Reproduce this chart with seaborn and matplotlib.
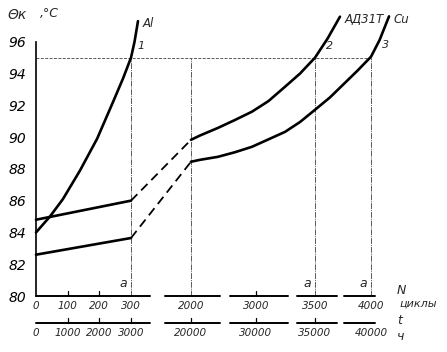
import numpy as np
import pandas as pd
import matplotlib
matplotlib.use("Agg")
import matplotlib.pyplot as plt
import seaborn as sns

# ---------------- data ----------------
# N (cycles) and temperature readings
al_N = [0, 44, 85, 139, 193, 243, 275, 300, 400, 498]
al_T = [84.0, 85.0, 86.1, 87.9, 89.9, 92.2, 93.7, 95.0, 96.0, 97.3]

ad_lin_N = [0, 300]
ad_lin_T = [84.8, 86.0]
ad_dash_N = [300, 2000]
ad_dash_T = [86.0, 89.83]
ad_N = [2000, 2138, 2415, 2677, 2938, 3106, 3246, 3373, 3500, 3612, 3723]
ad_T = [89.83, 90.1, 90.58, 91.08, 91.6, 92.27, 93.17, 94.0, 95.0, 96.2, 97.58]

cu_lin_N = [0, 300]
cu_lin_T = [82.6, 83.65]
cu_dash_N = [300, 2000]
cu_dash_T = [83.65, 88.45]
cu_N = [2000, 2138, 2415, 2677, 2938, 3246, 3373, 3500, 3634, 3768, 3879, 4000, 4076, 4161]
cu_T = [88.45, 88.57, 88.76, 89.05, 89.39, 90.33, 90.95, 91.72, 92.5, 93.42, 94.18, 95.06, 96.1, 97.6]

y_ticks = [80, 82, 84, 86, 88, 90, 92, 94, 96]
n_ticks = [0, 100, 200, 300, 2000, 3000, 3500, 4000]
n_labels = ["0", "100", "200", "300", "2000", "3000", "3500", "4000"]
t_labels = ["0", "1000", "2000", "3000", "20000", "30000", "35000", "40000"]
limit_T = 95
limit_N = [300, 3500, 4000]          # points 1, 2, 3
limit_T_pts = [95.0, 95.0, 95.06]
point_names = ["1", "2", "3"]
curve_names = ["Al", "АД31Т", "Cu"]
grid_N = [300, 2000, 3500, 4000]
axis_segments = [(0, 838), (1263, 2446), (2600, 3271), (3347, 3696), (3759, 4036)]
small_ticks_row1 = [100, 200, 3000]
small_ticks_row2 = [100, 200, 300, 2000, 3000, 3500]

# ---------------- broken (piecewise) x scale ----------------
nodes_N = np.array([0, 300, 2000, 3000, 3500, 4000, 5000], float)
nodes_P = np.array([0, 95, 155, 220, 279, 335, 447], float)

def fwd(x):
    return np.interp(np.asarray(x, float), nodes_N, nodes_P)

def inv(p):
    return np.interp(np.asarray(p, float), nodes_P, nodes_N)

sns.set_style("white")
plt.rcParams['font.family'] = ['DejaVu Sans']

W, H = 447, 352
fig = plt.figure(figsize=(W / 100, H / 100), dpi=100)
ax_left, ax_right, ax_top, ax_bot = 36, 404.6, 10, 296
ax = fig.add_axes([ax_left / W, 1 - ax_bot / H, (ax_right - ax_left) / W, (ax_bot - ax_top) / H])
ax.set_xscale('function', functions=(fwd, inv))
ax.set_xlim(0, 4300)
ax.set_ylim(80, 98)

lw = 1.9
def draw(N, T, ls='-', w=lw):
    df = pd.DataFrame({"N": N, "T": T})
    sns.lineplot(data=df, x="N", y="T", ax=ax, color="black", lw=w, ls=ls,
                 sort=False, estimator=None, clip_on=False)

draw(al_N, al_T)
draw(ad_lin_N, ad_lin_T)
draw(ad_N, ad_T)
draw(cu_lin_N, cu_lin_T)
draw(cu_N, cu_T)
draw(ad_dash_N, ad_dash_T, ls=(0, (5, 3)), w=1.3)
draw(cu_dash_N, cu_dash_T, ls=(0, (5, 3)), w=1.3)

# guide lines
gcol = "0.35"
ax.plot([0, 4000], [limit_T, limit_T], color=gcol, lw=0.7, ls=(0, (3, 1.5)), zorder=1)
for n in grid_N:
    ax.plot([n, n], [80, limit_T], color=gcol, lw=0.7, ls=(0, (6, 1, 1, 1)), zorder=1)

# spines and y ticks
for s in ["top", "right", "bottom"]:
    ax.spines[s].set_visible(False)
ax.spines["left"].set_color("black")
ax.spines["left"].set_linewidth(1.2)
ax.spines["left"].set_bounds(80, 96)
ax.set_yticks(y_ticks)
ax.set_yticklabels([str(v) for v in y_ticks], fontsize=10, style="italic")
ax.tick_params(axis="y", direction="in", length=5, width=1, pad=7, colors="black")
ax.set_xticks([])
ax.set_xlabel("")
ax.set_ylabel("")
ax.grid(False)

# broken x axes (two rows)
tr = ax.get_xaxis_transform()
px_per_y = (ax_bot - ax_top)
row2 = -(323 - 296) / px_per_y
tick_len = 5 / px_per_y
for a, b in axis_segments:
    ax.plot([a, b], [0, 0], color="black", lw=1.4, transform=tr, clip_on=False)
    ax.plot([a, b], [row2, row2], color="black", lw=1.4, transform=tr, clip_on=False)
for n in small_ticks_row1:
    ax.plot([n, n], [0, tick_len], color="black", lw=0.9, transform=tr, clip_on=False)
for n in small_ticks_row2:
    ax.plot([n, n], [row2, row2 + tick_len], color="black", lw=0.9, transform=tr, clip_on=False)

lab1_y = -(306 - 296) / px_per_y
lab2_y = -(333 - 296) / px_per_y
for n, l1, l2 in zip(n_ticks, n_labels, t_labels):
    ax.text(n, lab1_y, l1, transform=tr, ha="center", va="center", fontsize=7.5, style="italic")
    ax.text(n, lab2_y, l2, transform=tr, ha="center", va="center", fontsize=7.5, style="italic")

# "a" marks
for n in [300, 3500, 4000]:
    ax.annotate("a", xy=(n, 80), xytext=(-3, 4), textcoords="offset points",
                ha="right", va="bottom", fontsize=9, style="italic")

# point labels and curve labels
for n, t, s, dx in zip(limit_N, limit_T_pts, point_names, [5, 8, 8]):
    ax.annotate(s, xy=(n, t), xytext=(dx, 5), textcoords="offset points",
                ha="left", va="bottom", fontsize=8, style="italic")
ends = [(al_N[-1], al_T[-1]), (ad_N[-1], ad_T[-1]), (cu_N[-1], cu_T[-1])]
for (n, t), s in zip(ends, curve_names):
    ax.annotate(s, xy=(n, t), xytext=(3, -2), textcoords="offset points",
                ha="left", va="center", fontsize=8.5, style="italic")

# axis titles
fig.text(8 / W, 1 - 15 / H, "Θк", fontsize=10, style="italic", va="center", ha="left")
fig.text(40 / W, 1 - 14 / H, ",°C", fontsize=9, style="italic", va="center", ha="left")
fig.text(397 / W, 1 - 290 / H, "N", fontsize=9, style="italic", va="center", ha="left")
fig.text(399 / W, 1 - 304 / H, "циклы", fontsize=8, style="italic", va="center", ha="left")
fig.text(397 / W, 1 - 321 / H, "t", fontsize=9, style="italic", va="center", ha="left")
fig.text(397 / W, 1 - 336 / H, "ч", fontsize=9, style="italic", va="center", ha="left")

fig.savefig("out.png", dpi=100)
